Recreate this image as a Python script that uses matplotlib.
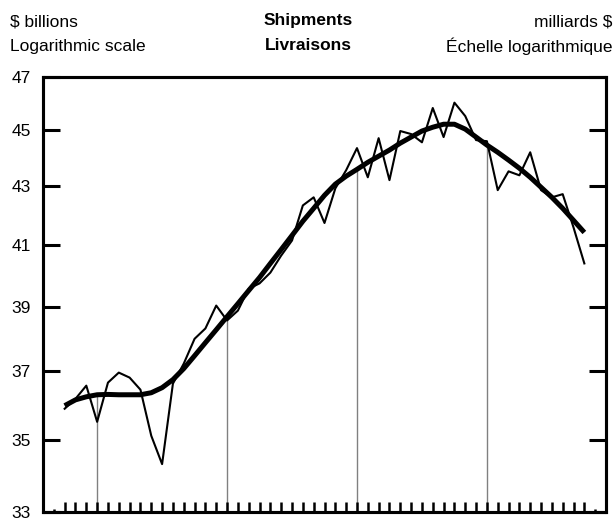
import matplotlib
matplotlib.use("Agg")
from matplotlib import pyplot as plt
from matplotlib.patches import Rectangle
from matplotlib.ticker import FixedLocator, FixedFormatter, NullLocator

plt.rcParams['font.family'] = ['Liberation Sans', 'DejaVu Sans']

# month index (x axis runs 0..52)
months = list(range(2, 51))

# monthly shipments, $ billions
shipments = [35.89, 36.18, 36.57, 35.51, 36.66, 36.96, 36.81, 36.45, 35.11, 34.31,
             36.63, 37.23, 37.99, 38.31, 39.03, 38.56, 38.87, 39.57, 39.74, 40.09,
             40.65, 41.15, 42.34, 42.62, 41.74, 42.93, 43.57, 44.36, 43.32, 44.72,
             43.22, 44.98, 44.87, 44.57, 45.83, 44.76, 46.03, 45.53, 44.65, 44.61,
             42.87, 43.53, 43.39, 44.21, 42.87, 42.62, 42.73, 41.59, 40.39]

# smoothed trend-cycle
trend = [35.98, 36.15, 36.24, 36.30, 36.31, 36.30, 36.30, 36.30, 36.36, 36.51,
         36.75, 37.08, 37.47, 37.87, 38.27, 38.68, 39.09, 39.51, 39.93, 40.39,
         40.85, 41.32, 41.80, 42.24, 42.69, 43.08, 43.36, 43.60, 43.85, 44.07,
         44.29, 44.54, 44.76, 44.98, 45.12, 45.23, 45.23, 45.05, 44.76, 44.47,
         44.21, 43.93, 43.64, 43.32, 42.97, 42.62, 42.24, 41.83, 41.42]

year_marks = [5, 17, 29, 41]
y_ticks = [33, 35, 37, 39, 41, 43, 45, 47]

fig = plt.figure(figsize=(6.15, 5.19), dpi=100)
rect = [43/615, 1-512/519, (606-43)/615, (512-77)/519]
ax = fig.add_axes(rect)

ax.set_yscale('log')
ax.set_xlim(0, 52)
ax.set_ylim(33, 47)

# vertical year separators up to the trend line
for m in year_marks:
    ax.vlines(m, 33, trend[months.index(m)], color='#808080', lw=1.0, zorder=1)

ax.plot(months, shipments, color='black', lw=1.5, zorder=2)
ax.plot(months, trend, color='black', lw=3.6, zorder=3, solid_capstyle='butt')

for s in ax.spines.values():
    s.set_linewidth(2.2)
    s.set_color('black')

# frame again at figure level, same place as the spines
fig.add_artist(Rectangle((rect[0], rect[1]), rect[2], rect[3], transform=fig.transFigure,
                         fill=False, ec='black', lw=2.2, zorder=10))

ax.yaxis.set_major_locator(FixedLocator(y_ticks))
ax.yaxis.set_major_formatter(FixedFormatter([str(v) for v in y_ticks]))
ax.yaxis.set_minor_locator(NullLocator())
ax.tick_params(axis='y', which='major', direction='in', length=12, width=2.2,
               right=True, labelsize=12.5, pad=9)

ax.xaxis.set_major_locator(FixedLocator(months))
ax.xaxis.set_minor_locator(FixedLocator([1, 51]))
ax.tick_params(axis='x', which='major', direction='in', length=7, width=1.8, labelbottom=False)
ax.tick_params(axis='x', which='minor', direction='in', length=2, width=1.8, labelbottom=False)

fig.text(10/615, 1-22/519, '$ billions', fontsize=12.5, ha='left', va='center')
fig.text(10/615, 1-46/519, 'Logarithmic scale', fontsize=12.5, ha='left', va='center')
fig.text(308/615, 1-20/519, 'Shipments', fontsize=12.5, fontweight='bold', ha='center', va='center')
fig.text(308/615, 1-46/519, 'Livraisons', fontsize=12.5, fontweight='bold', ha='center', va='center')
fig.text(612/615, 1-22/519, 'milliards $', fontsize=12.5, ha='right', va='center')
fig.text(612/615, 1-46/519, 'Échelle logarithmique', fontsize=12.5, ha='right', va='center')

fig.savefig('out.png', dpi=100)
